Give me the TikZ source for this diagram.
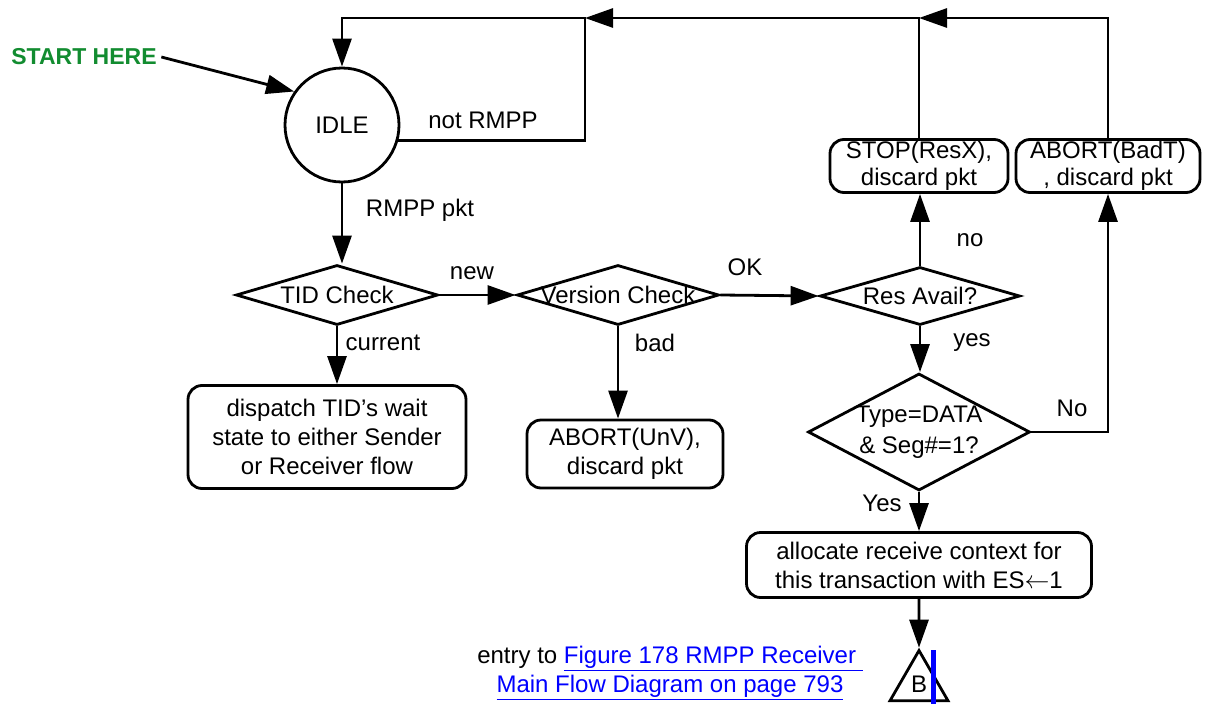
\documentclass[tikz,border=0pt]{standalone}
\usepackage{fontspec}
\setmainfont{Liberation Sans}
\usepackage{tikz}
\usetikzlibrary{arrows.meta,shapes.geometric}
\definecolor{startgreen}{RGB}{18,140,48}
\definecolor{linkblue}{RGB}{0,0,255}
\newcommand{\lnk}[1]{\textcolor{linkblue}{\underline{#1}}}

\begin{document}
\begin{tikzpicture}[x=1pt,y=-1pt,line width=2.8pt,>={Triangle[length=28pt,width=19pt]},
  font=\fontsize{24}{29}\selectfont,
  state/.style={circle,draw,minimum size=114pt,inner sep=0pt},
  act/.style={rectangle,draw,rounded corners=14pt,align=center,inner sep=0pt},
  test/.style={diamond,draw,inner sep=0pt}]
\useasboundingbox (0,0) rectangle (1210,704);
% states and tests
\node[state] (idle) at (342,125) {IDLE};
\node[text=startgreen,font=\bfseries\fontsize{23}{29}\selectfont] (start) at (84,57) {START HERE};
\node[test,minimum width=202pt,minimum height=60pt,label=center:TID Check] (tid) at (337,295) {};
\node[test,minimum width=202pt,minimum height=60pt,label=center:Version Check] (ver) at (618,295) {};
\node[test,minimum width=200pt,minimum height=58pt,label=center:Res Avail?] (res) at (920,296) {};
\node[test,minimum width=222pt,minimum height=117pt,
  label={[align=center,font=\fontsize{24}{31}\selectfont]center:{Type=DATA\\\& Seg\#=1?}}] (typ) at (919,432) {};
% actions
\node[act,minimum width=278pt,minimum height=103pt] (disp) at (327,437) {dispatch TID’s wait\\state to either Sender\\or Receiver flow};
\node[act,minimum width=196pt,minimum height=68pt] (unv) at (625,454) {ABORT(UnV),\\discard pkt};
\node[act,minimum width=178pt,minimum height=53pt,font=\fontsize{24}{27}\selectfont] (stop) at (919,166) {STOP(ResX),\\discard pkt};
\node[act,minimum width=184pt,minimum height=53pt,font=\fontsize{24}{27}\selectfont] (badt) at (1108,166) {ABORT(BadT)\\, discard pkt};
\node[act,minimum width=345pt,minimum height=65pt] (alloc) at (919,565) {allocate receive context for\\this transaction with ES\(\leftarrow\)1};
\node[regular polygon,regular polygon sides=3,draw,minimum size=67pt,inner sep=0pt] (entB) at (919,684) {B};
\node[align=center] (entry) at (670,673) {entry to \lnk{Figure 178 RMPP Receiver\ }\\\lnk{Main Flow Diagram on page 793}};
% edge labels
\node (lnot) at (483,120) {not RMPP};
\node (lrmpp) at (420,210) {RMPP pkt};
\node (lnew) at (472,273) {new};
\node (lcur) at (383,343) {current};
\node (lok) at (745,267) {OK};
\node (lbad) at (655,343) {bad};
\node (lno) at (970,240) {no};
\node (lyes) at (972,343) {yes};
\node (lNo) at (1072,408) {No};
\node (lYes) at (882,503) {Yes};
\coordinate (topl) at (585,18);
% connectors
\draw[->] (start.east) -- (idle.145);
\draw[->] (idle.-15) -| (topl) -| (idle.north);
\draw[->] (stop.north) |- (topl);
\draw[->] (badt.north) |- (stop.north |- topl);
\draw[->] (idle.south) -- (idle.south |- tid.north);
\draw[->] (tid.south) -- (tid.south |- disp.north);
\draw[->] (tid.east) -- (ver.west);
\draw[->] (ver.south) -- (ver.south |- unv.north);
\draw[->] (ver.east) -- (res.west);
\draw[->] (res.north) -- (res.north |- stop.south);
\draw[->] (res.south) -- (res.south |- typ.north);
\draw[->] (typ.east) -| (badt.south);
\draw[->] (typ.south) -- (alloc.north);
\draw[->] (alloc.south) -- (entB.north);
\draw[linkblue,line width=5pt] (933,650) -- (933,704);
\end{tikzpicture}
\end{document}
